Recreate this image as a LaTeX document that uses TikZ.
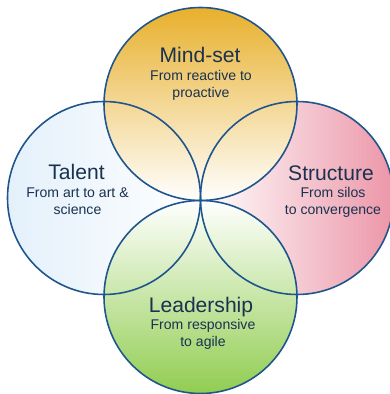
\documentclass[tikz,border=0pt]{standalone}
\usepackage{fontspec}
\setmainfont{Liberation Sans}
\definecolor{rand}{RGB}{30,85,140}
\definecolor{schrift}{RGB}{25,50,80}
\definecolor{gold}{RGB}{232,176,44}
\definecolor{rosa}{RGB}{236,150,168}
\definecolor{hellblau}{RGB}{205,228,248}
\definecolor{gruen}{RGB}{145,205,80}

\tikzset{
    kreis/.style={circle, minimum size=3.86cm, inner sep=0pt},
    titel/.style={schrift, anchor=base, inner sep=0pt, font=\fontsize{12}{14}\selectfont},
    unter/.style={schrift, anchor=base, inner sep=0pt, align=center, font=\fontsize{8}{9.7}\selectfont},
}

\begin{document}
\begin{tikzpicture}

    \useasboundingbox (0,0) rectangle (7.8,7.88);

    % Kreisflaechen mit Verlauf
    \node[kreis, left color=hellblau!55, middle color=hellblau!10, right color=white] (T) at (2.08,3.92) {};
    \node[kreis, left color=white, middle color=rosa!30, right color=rosa] (S) at (5.94,3.92) {};
    \node[kreis, top color=gold, middle color=gold!22, bottom color=white] (M) at (4.01,5.80) {};
    \node[kreis, top color=white, middle color=gruen!22, bottom color=gruen] (L) at (4.01,1.94) {};

    % Umrisse
    \foreach \n in {T, S, M, L}{
            \draw[rand, line width=0.9pt] (\n.center) circle (1.93);
        }

    % base = Grundlinie der letzten Zeile
    \node[titel] (Mt) at (4.0,6.62) {Mind-set};
    \node[unter] (Mu) at (4.02,5.93) {From reactive to\\proactive};

    \node[titel] (Tt) at (1.53,4.28) {Talent};
    \node[unter] (Tu) at (1.55,3.58) {From art to art \&\\science};

    \node[titel] (St) at (6.62,4.26) {Structure};
    \node[unter] (Su) at (6.66,3.58) {From silos\\to convergence};

    \node[titel] (Lt) at (4.02,1.62) {Leadership};
    \node[unter] (Lu) at (4.06,0.94) {From responsive\\to agile};

\end{tikzpicture}
\end{document}
